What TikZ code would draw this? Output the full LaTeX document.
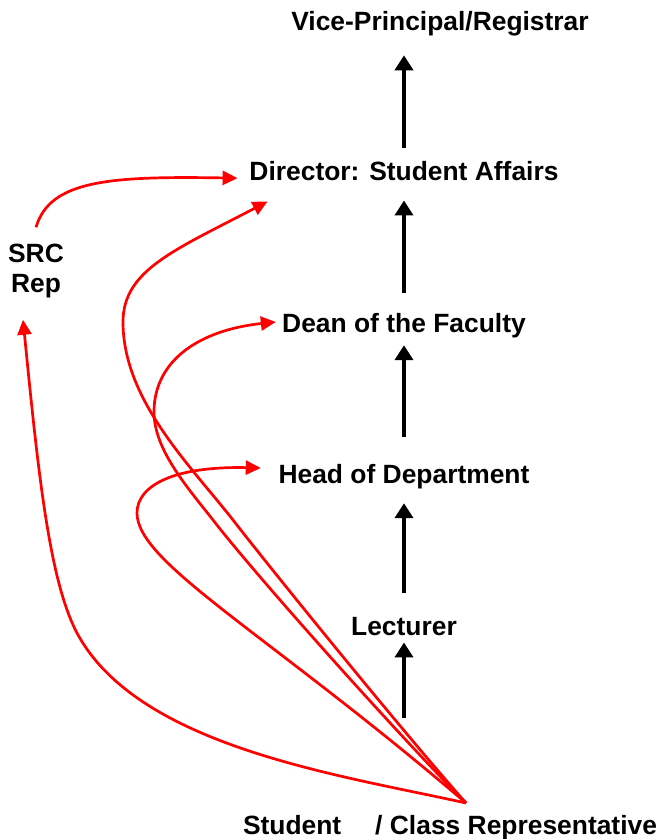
\documentclass[tikz,border=0pt]{standalone}
\usepackage{fontspec}
\setmainfont{Liberation Sans}
\usetikzlibrary{arrows.meta}
\begin{document}
\begin{tikzpicture}[x=1pt,y=-1pt,
  post/.style={font=\bfseries\fontsize{26.4}{30}\selectfont,inner sep=0pt,anchor=base},
  up/.style={line width=4pt,-{Triangle[length=15pt,width=18pt]}},
  route/.style={red,line width=2.7pt,-{Triangle[length=15pt,width=14pt]}}]
\useasboundingbox (0,0) rectangle (659,839);
\node[post] (vp) at (440,30) {Vice-Principal/Registrar};
\node[post] (dsa) at (404,180) {Director: Student Affairs};
\node[post] (dean) at (404,332) {Dean of the Faculty};
\node[post] (hod) at (404,483) {Head of Department};
\node[post] (lect) at (404,635) {Lecturer};
\node[post] (stud) at (450,834) {Student\hspace{34pt}/ Class Representative};
\node[post,anchor=center,align=center] (src) at (36,271) {SRC\\Rep};
\coordinate (rep) at (466,803);
\draw[up,shorten <=13pt,shorten >=19.5pt] (dsa.north) -- (dsa.north |- vp.south);
\draw[up,shorten <=20pt,shorten >=20pt] (dean.north) -- (dsa.south);
\draw[up,shorten <=27pt,shorten >=7.5pt] (hod.north) -- (dean.south);
\draw[up,shorten <=24pt,shorten >=14.5pt] (lect.north) -- (hod.south);
\draw[up,shorten <=97pt,shorten >=7pt] (lect.south |- stud.north) -- (lect.south);
\draw[route] ([shift={(0,-16.6)}]src.north) .. controls (50,180) and (110,176) .. ([shift={(-11.7,7.6)}]dsa.west);
\draw[route] (rep) .. controls (410,740) and (282,583) .. (233,520) .. controls (190,465) and (123,400) .. (123,322) .. controls (123,270) and (175,250) .. ([shift={(18.3,21)}]dsa.south west);
\draw[route] (rep) .. controls (406,743) and (262,583) .. (213,520) .. controls (188,488) and (154,450) .. (154,412) .. controls (154,360) and (200,330) .. ([shift={(-6.2,-3.2)}]dean.west);
\draw[route] (rep) .. controls (266,632) and (137,563) .. (137,513) .. controls (137,485) and (175,466) .. ([shift={(-17.6,-8.2)}]hod.west);
\draw[route] (rep) .. controls (340,775) and (138,747) .. (77,633) .. controls (49,580) and (38,470) .. ([shift={(-13,21.6)}]src.south);
\end{tikzpicture}
\end{document}
